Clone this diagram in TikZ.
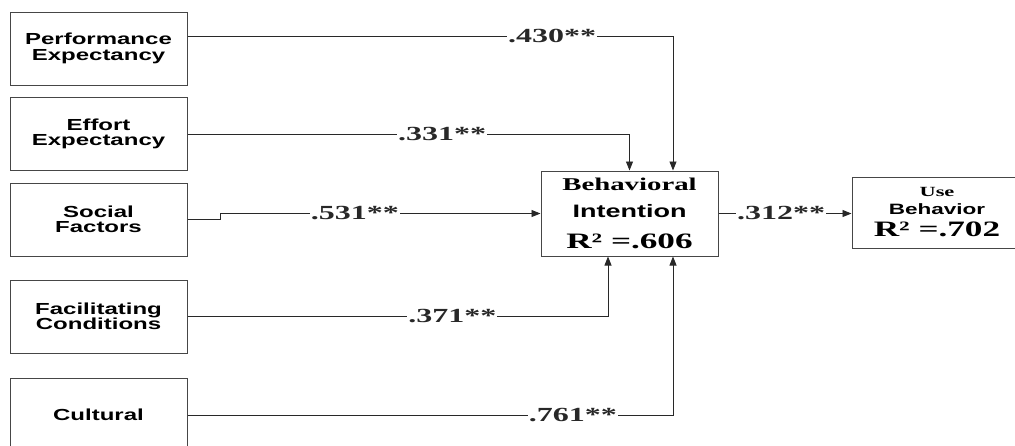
\documentclass[tikz,border=0pt]{standalone}
\usepackage{fontspec}
\usepackage{xcolor}
\usetikzlibrary{arrows.meta, positioning, calc}
\newfontfamily\boxsans[FakeStretch=1.5]{Liberation Sans Bold}
\newfontfamily\coefserif[FakeStretch=1.6]{Liberation Serif Bold}
\definecolor{framegray}{RGB}{70, 70, 70}
\definecolor{linkgray}{RGB}{40, 40, 40}

\begin{document}
\begin{tikzpicture}[x=1pt, y=-1pt,
    construct/.style={draw=framegray, line width=1pt, minimum width=177pt,
                      minimum height=73pt, align=center, inner sep=0pt,
                      font=\boxsans\fontsize{16}{15.5}\selectfont},
    link/.style={-{Triangle[length=9pt, width=7pt]}, line width=0.8pt, linkgray},
    coef/.style={fill=white, inner sep=1pt,
                 font=\coefserif\fontsize{20}{20}\selectfont}
]
    \useasboundingbox (0,0) rectangle (1015,445);

    % predictors
    \node[construct] (perf) at (98.5,48.5) {Performance\\Expectancy};
    \node[construct] (effort) at (98.5,134) {Effort\\Expectancy};
    \node[construct] (social) at (98.5,219.5) {Social\\Factors};
    \node[construct] (facil) at (98.5,316.5) {Facilitating\\Conditions};
    \node[construct, minimum height=74pt] (cult) at (98.5,415) {Cultural};

    % outcomes
    \node[construct, minimum height=85pt,
          font=\fontsize{16}{27}\selectfont] (bi) at (629.5,213.5)
        {{\coefserif\fontsize{18}{18}\selectfont Behavioral}\\
         {\boxsans\fontsize{18}{18}\selectfont Intention}\\[4pt]
         {\coefserif\fontsize{22}{22}\selectfont R² =.606}};
    \node[construct, minimum width=170pt, minimum height=71pt,
          font=\fontsize{15}{18}\selectfont] (ub) at (937,212.5)
        {{\coefserif\fontsize{14}{14}\selectfont Use}\\
         {\boxsans Behavior}\\[4pt]
         {\coefserif\fontsize{22}{22}\selectfont R² =.702}};

    % paths
    \draw[link] ([yshift=12.5pt]perf.east) -| node[coef, pos=0.3755] {.430**}
        ([xshift=43.5pt]bi.north);
    \draw[link] (effort.east) -| node[coef, pos=0.288] {.331**} (bi.north);
    \draw[link] (social.east) -- ++(33,0) |- node[coef, pos=0.71] {.531**} (bi.west);
    \draw[link] (facil.east) -| node[coef, pos=0.315] {.371**}
        ([xshift=-21.5pt]bi.south);
    \draw[link] (cult.east) -| node[coef, pos=0.397] {.761**}
        ([xshift=43.5pt]bi.south);
    \draw[link] (bi.east) -- node[coef, pos=0.47] {.312**} (bi.east -| ub.west);
\end{tikzpicture}
\end{document}
